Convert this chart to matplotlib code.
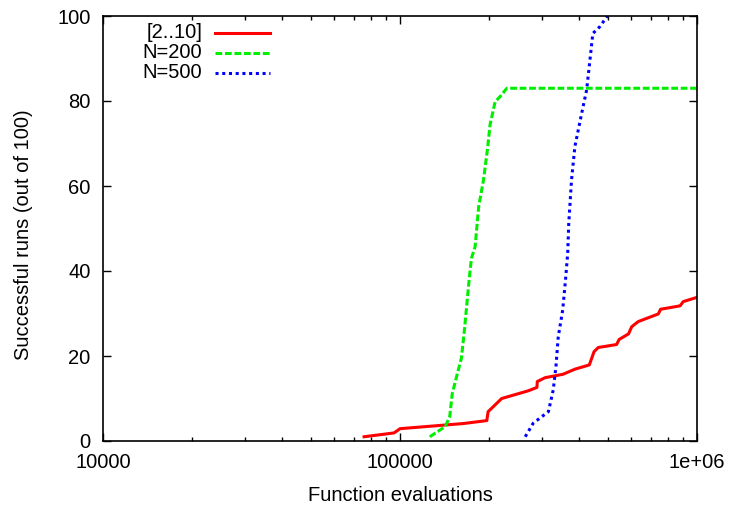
import matplotlib
matplotlib.use("Agg")
import matplotlib.pyplot as plt
from matplotlib.ticker import FixedLocator, LogLocator, NullFormatter

plt.rcParams['font.family'] = ['Liberation Sans', 'DejaVu Sans']

# [2..10]
x_range = [75700, 95500, 100000, 163000, 196000, 198000, 220000, 270000, 289000, 290000,
           308000, 354000, 388000, 434000, 450000, 465000, 536000, 547000, 588000, 603000,
           634000, 741000, 754000, 877000, 899000, 1000000]
y_range = [1.0, 1.9, 2.9, 4.1, 4.8, 6.9, 10.0, 11.8, 12.6, 14.0,
           14.9, 15.7, 16.9, 17.9, 21.0, 22.0, 22.7, 23.9, 25.2, 26.9,
           28.1, 29.9, 31.0, 31.8, 32.8, 33.8]

# N=200
x_n200 = [126000, 142000, 147000, 150000, 155000, 161000, 165000, 171000, 174000, 179000,
          184000, 191000, 197000, 201000, 209000, 217000, 229000, 1000000]
y_n200 = [1.0, 3.4, 5.7, 11.2, 15.1, 19.5, 26.5, 38.1, 43.0, 45.7,
          55.1, 61.4, 68.6, 74.4, 79.8, 81.0, 83.0, 83.0]

# N=500
x_n500 = [264000, 281000, 316000, 328000, 335000, 341000, 353000, 361000, 367000, 370000,
          378000, 388000, 409000, 425000, 436000, 446000, 471000, 499000]
y_n500 = [1.0, 4.2, 6.9, 12.0, 17.5, 24.5, 30.8, 38.1, 44.2, 51.2,
          61.4, 69.3, 77.1, 82.6, 89.6, 95.9, 97.5, 100.0]

labels = ['[2..10]', 'N=200', 'N=500']
xticks = [1e4, 1e5, 1e6]
xtick_labels = ['10000', '100000', '1e+06']
yticks = [0, 20, 40, 60, 80, 100]

fs = 14.5

fig = plt.figure(figsize=(7.33, 5.07), dpi=100)
ax = fig.add_axes([103 / 733, 1 - 441 / 507, 594 / 733, 425 / 507])

lw = 2.2
styles = [dict(color='#ff0000', lw=lw, ls='-'),
          dict(color='#00ee00', lw=lw, ls=(0, (2.2, 0.9)), dash_capstyle='butt'),
          dict(color='#0000ff', lw=lw, ls=(0, (1.0, 1.2)), dash_capstyle='butt')]

series = [(x_range, y_range), (x_n200, y_n200), (x_n500, y_n500)]
for (xs, ys), st in zip(series, styles):
    ax.plot(xs, ys, **st)

ax.set_xscale('log')
ax.set_xlim(1e4, 1e6)
ax.set_ylim(0, 100)
ax.xaxis.set_major_locator(FixedLocator(xticks))
ax.set_xticklabels(xtick_labels)
ax.xaxis.set_minor_locator(LogLocator(base=10, subs=range(2, 10)))
ax.xaxis.set_minor_formatter(NullFormatter())
ax.set_yticks(yticks)

ax.tick_params(which='both', direction='in', top=True, right=True, labelsize=fs, width=1.0)
ax.tick_params(which='major', length=6, pad=9)
ax.tick_params(which='minor', length=3)
for sp in ax.spines.values():
    sp.set_linewidth(1.2)

ax.set_xlabel('Function evaluations', fontsize=fs, labelpad=10)
ax.set_ylabel('Successful runs (out of 100)', fontsize=fs)
ax.yaxis.set_label_coords(-0.118, 0.485)

# gnuplot-like key: text right-aligned, sample to the right
key_y = [0.9607, 0.9136, 0.8666]
for lab, st, yk in zip(labels, styles, key_y):
    ax.text(0.1667, yk, lab, transform=ax.transAxes, ha='right', va='center', fontsize=fs)
    ax.plot([0.1886, 0.2811], [yk, yk], transform=ax.transAxes, **st)

fig.savefig('out.png', dpi=100)
